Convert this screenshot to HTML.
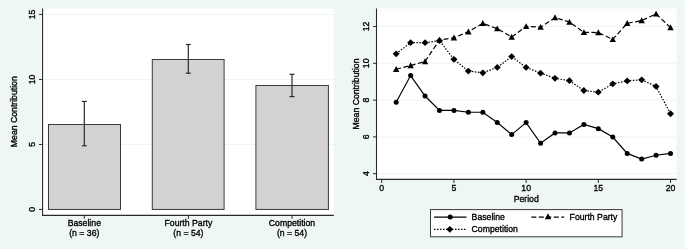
<!DOCTYPE html>
<html><head><meta charset="utf-8"><style>
html,body{margin:0;padding:0;background:#eff6f6;width:685px;height:249px;overflow:hidden;}
svg{display:block;will-change:transform;}
text{font-family:"Liberation Sans", sans-serif;}
</style></head><body>
<svg width="685" height="249" viewBox="0 0 685 249" font-family='"Liberation Sans", sans-serif' font-size="9.5"><rect x="0" y="0" width="685" height="249" fill="#eff6f6"/>
<rect x="41.5" y="8.5" width="292.3" height="207.4" fill="#fff"/>
<line x1="43" y1="144.45" x2="333.8" y2="144.45" stroke="#edf5f5" stroke-width="1"/>
<line x1="43" y1="79.45" x2="333.8" y2="79.45" stroke="#edf5f5" stroke-width="1"/>
<line x1="43" y1="14.45" x2="333.8" y2="14.45" stroke="#edf5f5" stroke-width="1"/>
<rect x="48.50" y="124.50" width="72.00" height="84.95" fill="#d4d1d3" stroke="#3a3a3a" stroke-width="1"/>
<rect x="152.30" y="59.50" width="71.80" height="149.95" fill="#d4d1d3" stroke="#3a3a3a" stroke-width="1"/>
<rect x="255.90" y="85.50" width="72.50" height="123.95" fill="#d4d1d3" stroke="#3a3a3a" stroke-width="1"/>
<line x1="84.3" y1="101.4" x2="84.3" y2="145.8" stroke="#2a2a2a" stroke-width="1.2"/>
<line x1="81.85" y1="101.4" x2="86.75" y2="101.4" stroke="#2a2a2a" stroke-width="1.2"/>
<line x1="81.85" y1="145.8" x2="86.75" y2="145.8" stroke="#2a2a2a" stroke-width="1.2"/>
<line x1="188.3" y1="44.5" x2="188.3" y2="73.2" stroke="#2a2a2a" stroke-width="1.2"/>
<line x1="185.85000000000002" y1="44.5" x2="190.75" y2="44.5" stroke="#2a2a2a" stroke-width="1.2"/>
<line x1="185.85000000000002" y1="73.2" x2="190.75" y2="73.2" stroke="#2a2a2a" stroke-width="1.2"/>
<line x1="292.0" y1="74.3" x2="292.0" y2="96.6" stroke="#2a2a2a" stroke-width="1.2"/>
<line x1="289.55" y1="74.3" x2="294.45" y2="74.3" stroke="#2a2a2a" stroke-width="1.2"/>
<line x1="289.55" y1="96.6" x2="294.45" y2="96.6" stroke="#2a2a2a" stroke-width="1.2"/>
<line x1="42.55" y1="8.5" x2="42.55" y2="215.9" stroke="#2a2a2a" stroke-width="1.1"/>
<line x1="42" y1="215.4" x2="333.8" y2="215.4" stroke="#2a2a2a" stroke-width="1.1"/>
<line x1="39.0" y1="209.45" x2="42.5" y2="209.45" stroke="#2a2a2a" stroke-width="1"/>
<line x1="39.0" y1="144.45" x2="42.5" y2="144.45" stroke="#2a2a2a" stroke-width="1"/>
<line x1="39.0" y1="79.45" x2="42.5" y2="79.45" stroke="#2a2a2a" stroke-width="1"/>
<line x1="39.0" y1="14.45" x2="42.5" y2="14.45" stroke="#2a2a2a" stroke-width="1"/>
<line x1="84.3" y1="215.4" x2="84.3" y2="218.8" stroke="#2a2a2a" stroke-width="1"/>
<line x1="188.4" y1="215.4" x2="188.4" y2="218.8" stroke="#2a2a2a" stroke-width="1"/>
<line x1="292.0" y1="215.4" x2="292.0" y2="218.8" stroke="#2a2a2a" stroke-width="1"/>
<rect x="375.8" y="8.5" width="300.8" height="171.3" fill="#fff"/>
<line x1="377" y1="173.68" x2="676.6" y2="173.68" stroke="#edf5f5" stroke-width="1"/>
<line x1="377" y1="136.89" x2="676.6" y2="136.89" stroke="#edf5f5" stroke-width="1"/>
<line x1="377" y1="100.10" x2="676.6" y2="100.10" stroke="#edf5f5" stroke-width="1"/>
<line x1="377" y1="63.31" x2="676.6" y2="63.31" stroke="#edf5f5" stroke-width="1"/>
<line x1="377" y1="26.52" x2="676.6" y2="26.52" stroke="#edf5f5" stroke-width="1"/>
<polyline points="396.17,102.30 410.61,75.55 425.05,96.03 439.49,110.42 453.93,110.42 468.37,112.26 482.81,112.26 497.25,122.59 511.69,134.59 526.13,122.59 540.57,143.26 555.01,132.93 569.45,132.93 583.89,124.44 598.33,128.68 612.77,136.98 627.21,153.41 641.65,159.12 656.09,155.25 670.53,153.41" fill="none" stroke="#000" stroke-width="1.2"/>
<polyline points="396.17,69.27 410.61,65.58 425.05,61.52 439.49,39.94 453.93,37.72 468.37,31.82 482.81,23.33 497.25,28.68 511.69,36.99 526.13,26.47 540.57,27.21 555.01,17.61 569.45,22.04 583.89,32.37 598.33,32.56 612.77,39.38 627.21,23.33 641.65,20.56 656.09,13.92 670.53,27.58" fill="none" stroke="#000" stroke-width="1.2" stroke-dasharray="5 2.5"/>
<polyline points="396.17,53.77 410.61,42.71 425.05,42.71 439.49,40.68 453.93,59.31 468.37,71.12 482.81,72.78 497.25,67.43 511.69,56.54 526.13,67.43 540.57,73.15 555.01,78.31 569.45,80.71 583.89,90.49 598.33,92.15 612.77,83.85 627.21,80.90 641.65,79.79 656.09,86.43 670.53,113.74" fill="none" stroke="#000" stroke-width="1.2" stroke-dasharray="1.5 1.5"/>
<circle cx="396.17" cy="102.30" r="2.5" fill="#000"/>
<circle cx="410.61" cy="75.55" r="2.5" fill="#000"/>
<circle cx="425.05" cy="96.03" r="2.5" fill="#000"/>
<circle cx="439.49" cy="110.42" r="2.5" fill="#000"/>
<circle cx="453.93" cy="110.42" r="2.5" fill="#000"/>
<circle cx="468.37" cy="112.26" r="2.5" fill="#000"/>
<circle cx="482.81" cy="112.26" r="2.5" fill="#000"/>
<circle cx="497.25" cy="122.59" r="2.5" fill="#000"/>
<circle cx="511.69" cy="134.59" r="2.5" fill="#000"/>
<circle cx="526.13" cy="122.59" r="2.5" fill="#000"/>
<circle cx="540.57" cy="143.26" r="2.5" fill="#000"/>
<circle cx="555.01" cy="132.93" r="2.5" fill="#000"/>
<circle cx="569.45" cy="132.93" r="2.5" fill="#000"/>
<circle cx="583.89" cy="124.44" r="2.5" fill="#000"/>
<circle cx="598.33" cy="128.68" r="2.5" fill="#000"/>
<circle cx="612.77" cy="136.98" r="2.5" fill="#000"/>
<circle cx="627.21" cy="153.41" r="2.5" fill="#000"/>
<circle cx="641.65" cy="159.12" r="2.5" fill="#000"/>
<circle cx="656.09" cy="155.25" r="2.5" fill="#000"/>
<circle cx="670.53" cy="153.41" r="2.5" fill="#000"/>
<path d="M396.17,66.03 L399.37,71.93 L392.97,71.93 Z" fill="#000"/>
<path d="M410.61,62.34 L413.81,68.24 L407.41,68.24 Z" fill="#000"/>
<path d="M425.05,58.28 L428.25,64.18 L421.85,64.18 Z" fill="#000"/>
<path d="M439.49,36.69 L442.69,42.59 L436.29,42.59 Z" fill="#000"/>
<path d="M453.93,34.48 L457.13,40.38 L450.73,40.38 Z" fill="#000"/>
<path d="M468.37,28.57 L471.57,34.47 L465.17,34.47 Z" fill="#000"/>
<path d="M482.81,20.09 L486.01,25.99 L479.61,25.99 Z" fill="#000"/>
<path d="M497.25,25.44 L500.45,31.34 L494.05,31.34 Z" fill="#000"/>
<path d="M511.69,33.74 L514.89,39.64 L508.49,39.64 Z" fill="#000"/>
<path d="M526.13,23.22 L529.33,29.12 L522.93,29.12 Z" fill="#000"/>
<path d="M540.57,23.96 L543.77,29.86 L537.37,29.86 Z" fill="#000"/>
<path d="M555.01,14.37 L558.21,20.27 L551.81,20.27 Z" fill="#000"/>
<path d="M569.45,18.80 L572.65,24.70 L566.25,24.70 Z" fill="#000"/>
<path d="M583.89,29.13 L587.09,35.03 L580.69,35.03 Z" fill="#000"/>
<path d="M598.33,29.31 L601.53,35.21 L595.13,35.21 Z" fill="#000"/>
<path d="M612.77,36.14 L615.97,42.04 L609.57,42.04 Z" fill="#000"/>
<path d="M627.21,20.09 L630.41,25.99 L624.01,25.99 Z" fill="#000"/>
<path d="M641.65,17.32 L644.85,23.22 L638.45,23.22 Z" fill="#000"/>
<path d="M656.09,10.68 L659.29,16.58 L652.89,16.58 Z" fill="#000"/>
<path d="M670.53,24.33 L673.73,30.23 L667.33,30.23 Z" fill="#000"/>
<path d="M396.17,50.38 L399.67,53.77 L396.17,57.17 L392.67,53.77 Z" fill="#000"/>
<path d="M410.61,39.31 L414.11,42.71 L410.61,46.11 L407.11,42.71 Z" fill="#000"/>
<path d="M425.05,39.31 L428.55,42.71 L425.05,46.11 L421.55,42.71 Z" fill="#000"/>
<path d="M439.49,37.28 L442.99,40.68 L439.49,44.08 L435.99,40.68 Z" fill="#000"/>
<path d="M453.93,55.91 L457.43,59.31 L453.93,62.71 L450.43,59.31 Z" fill="#000"/>
<path d="M468.37,67.72 L471.87,71.12 L468.37,74.52 L464.87,71.12 Z" fill="#000"/>
<path d="M482.81,69.38 L486.31,72.78 L482.81,76.18 L479.31,72.78 Z" fill="#000"/>
<path d="M497.25,64.03 L500.75,67.43 L497.25,70.83 L493.75,67.43 Z" fill="#000"/>
<path d="M511.69,53.14 L515.19,56.54 L511.69,59.94 L508.19,56.54 Z" fill="#000"/>
<path d="M526.13,64.03 L529.63,67.43 L526.13,70.83 L522.63,67.43 Z" fill="#000"/>
<path d="M540.57,69.75 L544.07,73.15 L540.57,76.55 L537.07,73.15 Z" fill="#000"/>
<path d="M555.01,74.91 L558.51,78.31 L555.01,81.71 L551.51,78.31 Z" fill="#000"/>
<path d="M569.45,77.31 L572.95,80.71 L569.45,84.11 L565.95,80.71 Z" fill="#000"/>
<path d="M583.89,87.09 L587.39,90.49 L583.89,93.89 L580.39,90.49 Z" fill="#000"/>
<path d="M598.33,88.75 L601.83,92.15 L598.33,95.55 L594.83,92.15 Z" fill="#000"/>
<path d="M612.77,80.45 L616.27,83.85 L612.77,87.25 L609.27,83.85 Z" fill="#000"/>
<path d="M627.21,77.50 L630.71,80.90 L627.21,84.30 L623.71,80.90 Z" fill="#000"/>
<path d="M641.65,76.39 L645.15,79.79 L641.65,83.19 L638.15,79.79 Z" fill="#000"/>
<path d="M656.09,83.03 L659.59,86.43 L656.09,89.83 L652.59,86.43 Z" fill="#000"/>
<path d="M670.53,110.34 L674.03,113.74 L670.53,117.14 L667.03,113.74 Z" fill="#000"/>
<line x1="376.5" y1="8.5" x2="376.5" y2="179.8" stroke="#2a2a2a" stroke-width="1.1"/>
<line x1="376" y1="179.35" x2="676.6" y2="179.35" stroke="#2a2a2a" stroke-width="1.1"/>
<line x1="373.0" y1="173.68" x2="376.5" y2="173.68" stroke="#2a2a2a" stroke-width="1"/>
<line x1="373.0" y1="136.89" x2="376.5" y2="136.89" stroke="#2a2a2a" stroke-width="1"/>
<line x1="373.0" y1="100.10" x2="376.5" y2="100.10" stroke="#2a2a2a" stroke-width="1"/>
<line x1="373.0" y1="63.31" x2="376.5" y2="63.31" stroke="#2a2a2a" stroke-width="1"/>
<line x1="373.0" y1="26.52" x2="376.5" y2="26.52" stroke="#2a2a2a" stroke-width="1"/>
<line x1="381.73" y1="179.3" x2="381.73" y2="183" stroke="#2a2a2a" stroke-width="1"/>
<line x1="453.93" y1="179.3" x2="453.93" y2="183" stroke="#2a2a2a" stroke-width="1"/>
<line x1="526.13" y1="179.3" x2="526.13" y2="183" stroke="#2a2a2a" stroke-width="1"/>
<line x1="598.33" y1="179.3" x2="598.33" y2="183" stroke="#2a2a2a" stroke-width="1"/>
<line x1="670.53" y1="179.3" x2="670.53" y2="183" stroke="#2a2a2a" stroke-width="1"/>
<rect x="430.5" y="209.6" width="191.55" height="27.2" fill="#fff" stroke="#3a3a3a" stroke-width="1"/>
<line x1="434" y1="217.1" x2="466.5" y2="217.1" stroke="#000" stroke-width="1.2"/>
<circle cx="450.20" cy="217.10" r="2.5" fill="#000"/>
<line x1="531.3" y1="217.1" x2="564.2" y2="217.1" stroke="#000" stroke-width="1.2" stroke-dasharray="5 2.5"/>
<path d="M548.00,213.35 L551.20,219.25 L544.80,219.25 Z" fill="#000"/>
<line x1="434" y1="229.3" x2="466.5" y2="229.3" stroke="#000" stroke-width="1.2" stroke-dasharray="1.5 1.5"/>
<path d="M449.80,225.90 L453.30,229.30 L449.80,232.70 L446.30,229.30 Z" fill="#000"/><g fill="#000" stroke="#000" stroke-width="0.35"><text transform="translate(34.90,209.45) rotate(-90) scale(0.915,1)" text-anchor="middle">0</text>
<text transform="translate(34.90,144.45) rotate(-90) scale(0.915,1)" text-anchor="middle">5</text>
<text transform="translate(34.90,79.45) rotate(-90) scale(0.915,1)" text-anchor="middle">10</text>
<text transform="translate(34.90,14.45) rotate(-90) scale(0.915,1)" text-anchor="middle">15</text>
<text transform="translate(84.30,226.35) scale(0.915,1)" text-anchor="middle">Baseline</text>
<text transform="translate(84.30,235.60) scale(0.915,1)" text-anchor="middle">(n = 36)</text>
<text transform="translate(188.40,226.35) scale(0.915,1)" text-anchor="middle">Fourth Party</text>
<text transform="translate(188.40,235.60) scale(0.915,1)" text-anchor="middle">(n = 54)</text>
<text transform="translate(292.00,226.35) scale(0.915,1)" text-anchor="middle">Competition</text>
<text transform="translate(292.00,235.60) scale(0.915,1)" text-anchor="middle">(n = 54)</text>
<text transform="translate(17.20,111.70) rotate(-90) scale(0.915,1)" text-anchor="middle">Mean Contribution</text>
<text transform="translate(368.70,173.68) rotate(-90) scale(0.915,1)" text-anchor="middle">4</text>
<text transform="translate(368.70,136.89) rotate(-90) scale(0.915,1)" text-anchor="middle">6</text>
<text transform="translate(368.70,100.10) rotate(-90) scale(0.915,1)" text-anchor="middle">8</text>
<text transform="translate(368.70,63.31) rotate(-90) scale(0.915,1)" text-anchor="middle">10</text>
<text transform="translate(368.70,26.52) rotate(-90) scale(0.915,1)" text-anchor="middle">12</text>
<text transform="translate(381.73,190.80) scale(0.915,1)" text-anchor="middle">0</text>
<text transform="translate(453.93,190.80) scale(0.915,1)" text-anchor="middle">5</text>
<text transform="translate(526.13,190.80) scale(0.915,1)" text-anchor="middle">10</text>
<text transform="translate(598.33,190.80) scale(0.915,1)" text-anchor="middle">15</text>
<text transform="translate(670.53,190.80) scale(0.915,1)" text-anchor="middle">20</text>
<text transform="translate(526.20,201.60) scale(0.915,1)" text-anchor="middle">Period</text>
<text transform="translate(359.30,94.00) rotate(-90) scale(0.915,1)" text-anchor="middle">Mean Contribution</text>
<text transform="translate(471.60,220.30) scale(0.915,1)" text-anchor="start">Baseline</text>
<text transform="translate(569.60,220.40) scale(0.915,1)" text-anchor="start">Fourth Party</text>
<text transform="translate(471.60,232.20) scale(0.915,1)" text-anchor="start">Competition</text></g></svg>
</body></html>
